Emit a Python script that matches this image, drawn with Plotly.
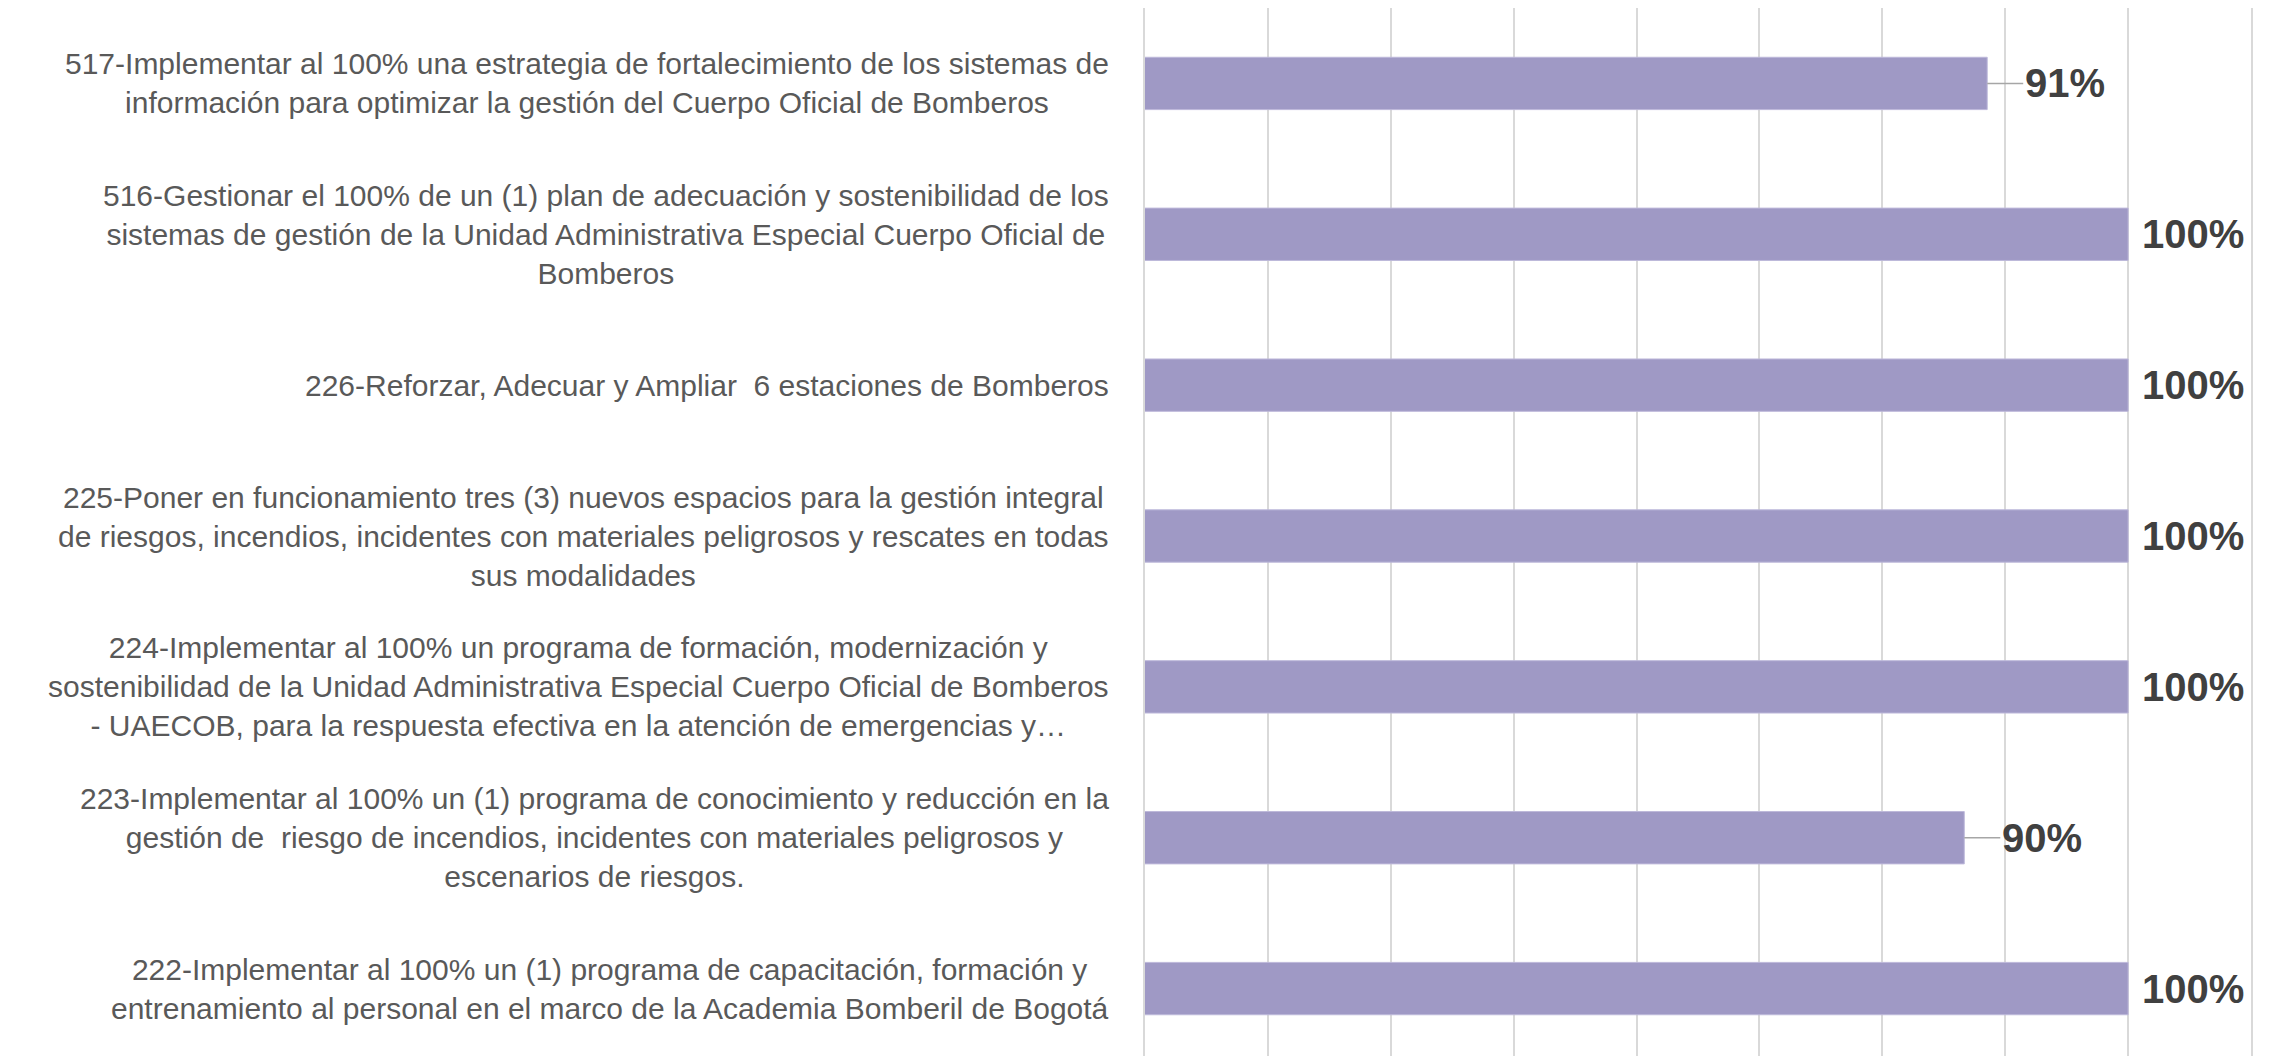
import plotly.graph_objects as go

# ---- data ----
categories = [
    "517-Implementar al 100% una estrategia de fortalecimiento de los sistemas de<br>información para optimizar la gestión del Cuerpo Oficial de Bomberos",
    "516-Gestionar el 100% de un (1) plan de adecuación y sostenibilidad de los<br>sistemas de gestión de la Unidad Administrativa Especial Cuerpo Oficial de<br>Bomberos",
    "226-Reforzar, Adecuar y Ampliar  6 estaciones de Bomberos",
    "225-Poner en funcionamiento tres (3) nuevos espacios para la gestión integral<br>de riesgos, incendios, incidentes con materiales peligrosos y rescates en todas<br>sus modalidades",
    "224-Implementar al 100% un programa de formación, modernización y<br>sostenibilidad de la Unidad Administrativa Especial Cuerpo Oficial de Bomberos<br>- UAECOB, para la respuesta efectiva en la atención de emergencias y…",
    "223-Implementar al 100% un (1) programa de conocimiento y reducción en la<br>gestión de  riesgo de incendios, incidentes con materiales peligrosos y<br>escenarios de riesgos.",
    "222-Implementar al 100% un (1) programa de capacitación, formación y<br>entrenamiento al personal en el marco de la Academia Bomberil de Bogotá",
]
values = [0.914, 1.0, 1.0, 1.0, 1.0, 0.90, 1.0]

# ---- style ----
BAR_COLOR = "#9F99C5"
GRID_COLOR = "#D9D9D9"
LABEL_COLOR = "#595959"
VALUE_COLOR = "#404040"
LABEL_FONT = "Liberation Sans, Arial, sans-serif"
VALUE_FONT = "Liberation Sans, Arial, sans-serif"

fig = go.Figure()
fig.add_trace(go.Bar(
    y=categories,
    x=values,
    orientation="h",
    marker=dict(color=BAR_COLOR, line=dict(color="#BDB8DA", width=1)),
    hoverinfo="skip",
))

annotations = []
for cat in categories:
    annotations.append(dict(
        x=0, xref="paper", xshift=-34, xanchor="right",
        y=cat, yref="y", yanchor="middle",
        text=cat, align="center", showarrow=False,
        font=dict(family=LABEL_FONT, size=30, color=LABEL_COLOR),
    ))

for cat, v in zip(categories, values):
    txt = f"{v:.0%}"
    if v >= 1.0:
        annotations.append(dict(
            x=v, xref="x", y=cat, yref="y",
            xanchor="left", yanchor="middle", xshift=12,
            text=f"<b>{txt}</b>", showarrow=False,
            font=dict(family=VALUE_FONT, size=40, color=VALUE_COLOR),
        ))
    else:
        annotations.append(dict(
            x=v, xref="x", y=cat, yref="y",
            xanchor="left", yanchor="middle",
            ax=36, ay=0, axref="pixel", ayref="pixel",
            showarrow=True, arrowhead=0, arrowwidth=1.5, arrowcolor="#A6A6A6",
            text=f"<b>{txt}</b>",
            font=dict(family=VALUE_FONT, size=40, color=VALUE_COLOR),
        ))

fig.update_layout(
    width=2270, height=1056,
    margin=dict(l=1137, r=27, t=0, b=0, pad=0),
    paper_bgcolor="white", plot_bgcolor="white",
    showlegend=False,
    bargap=0.653,
    annotations=annotations,
    xaxis=dict(
        range=[0.4, 1.075], tick0=0.4, dtick=0.075,
        showgrid=True, gridcolor=GRID_COLOR, gridwidth=1.5,
        showticklabels=False, zeroline=False, ticks="", showline=False,
    ),
    yaxis=dict(
        type="category", categoryorder="array", categoryarray=categories,
        range=[len(categories) - 0.5, -0.5],
        showticklabels=False, showgrid=False, ticks="",
        showline=True, mirror=True, linecolor=GRID_COLOR, linewidth=1.5,
    ),
)

fig.write_html("out.html")
